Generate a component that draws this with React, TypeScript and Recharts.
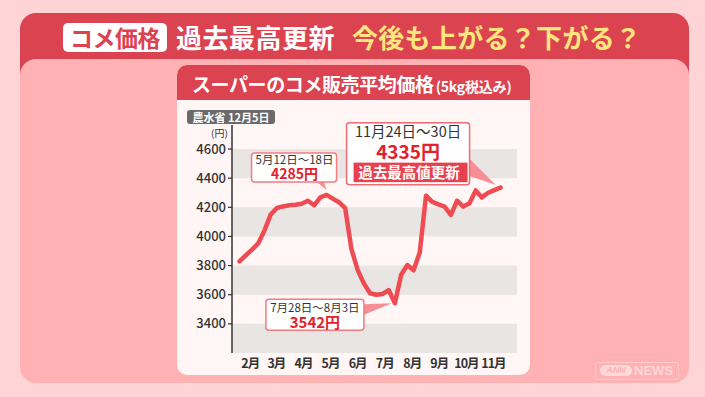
import React from 'react';
import { LineChart, Line, XAxis, YAxis, ReferenceArea, ReferenceDot } from 'recharts';

// ---- data ----
const weekStarts = ['2/3','2/10','2/17','2/24','3/3','3/10','3/17','3/24','3/31','4/7','4/14','4/21','4/28','5/5','5/12','5/19','5/26','6/2','6/9','6/16','6/23','6/30','7/7','7/14','7/21','7/28','8/4','8/11','8/18','8/25','9/1','9/8','9/15','9/22','9/29','10/6','10/13','10/20','10/27','11/3','11/10','11/17','11/24'];
const prices = [3829,3870,3910,3952,4040,4150,4195,4206,4214,4217,4225,4245,4214,4268,4285,4260,4235,4195,3915,3770,3678,3610,3600,3605,3632,3542,3737,3804,3768,3891,4280,4237,4220,4205,4147,4245,4205,4228,4316,4268,4300,4318,4335];
const monthNums = [2,3,4,5,6,7,8,9,10,11];
const monthLabels = ['2月','3月','4月','5月','6月','7月','8月','9月','10月','11月'];
const yTicks = [3400,3600,3800,4000,4200,4400,4600];
const greyBands = [[3200,3400],[3600,3800],[4000,4200],[4400,4600]];

const peakWeek = '5/12';
const peakRange = '5月12日～18日';
const lowWeek = '7/28';
const lowRange = '7月28日～8月3日';
const latestWeek = '11/24';
const latestRange = '11月24日～30日';
const recordText = '過去最高値更新';

const mainTag = 'コメ価格';
const mainTitle = '過去最高更新';
const mainSub = '今後も上がる？下がる？';
const cardTitle = 'スーパーのコメ販売平均価格';
const cardSub = '(5kg税込み)';
const sourceText = '農水省 12月5日';
const unitText = '(円)';

// ---- helpers ----
const cum = [0,31,59,90,120,151,181,212,243,273,304,334];
const dayOf = (m: number, d: number) => cum[m - 1] + d;
const parseWeek = (s: string) => { const [m, d] = s.split('/').map(Number); return dayOf(m, d); };
const chartData = weekStarts.map((w, i) => ({ day: parseWeek(w), price: prices[i] }));
const monthStarts = [...monthNums, 12].map(m => dayOf(m, 1));
const monthMids = monthNums.map((m, i) => (monthStarts[i] + monthStarts[i + 1]) / 2);
const priceAt = (w: string) => prices[weekStarts.indexOf(w)];

const FONT = '"Noto Sans CJK JP", "Noto Sans", sans-serif';
const RED = '#dc4351';
const LINE = '#ef4b53';
const TXTRED = '#e3202c';

const yen = (v: number) => `${v}円`;

const PeakCallout = (p: any) => {
  const { cx, cy } = p;
  const tx = cx - 32;
  return (
    <g fontFamily={FONT}>
      <polygon points={`${cx - 11},${cy - 14} ${cx - 3},${cy - 14} ${cx},${cy - 5}`} fill="#f68f95" />
      <rect x={cx - 75} y={cy - 42} width={85} height={29} rx={3} fill="#fff" stroke="#f27b82" strokeWidth={1.5} />
      <text x={tx} y={cy - 31} textAnchor="middle" fontSize={11.5} fill="#333">
        <tspan x={tx} y={cy - 31}>{peakRange}</tspan>
        <tspan x={tx} y={cy - 16} fontSize={14} fontWeight={700} fill={TXTRED}>{yen(priceAt(peakWeek))}</tspan>
      </text>
    </g>
  );
};

const LowCallout = (p: any) => {
  const { cx, cy } = p;
  const tx = cx - 80;
  return (
    <g fontFamily={FONT}>
      <polygon points={`${cx - 32},${cy + 1} ${cx - 32},${cy + 12} ${cx - 3},${cy}`} fill="#f68f95" />
      <rect x={cx - 129} y={cy - 4} width={98} height={31} rx={3} fill="#fff" stroke="#f27b82" strokeWidth={1.5} />
      <text x={tx} y={cy + 9} textAnchor="middle" fontSize={11.5} fill="#333">
        <tspan x={tx} y={cy + 9}>{lowRange}</tspan>
        <tspan x={tx} y={cy + 24.5} fontSize={15} fontWeight={700} fill={TXTRED}>{yen(priceAt(lowWeek))}</tspan>
      </text>
    </g>
  );
};

const LatestCallout = (p: any) => {
  const { cx, cy } = p;
  const tx = cx - 92.5;
  return (
    <g fontFamily={FONT}>
      <polygon points={`${cx - 32},${cy - 30} ${cx - 32},${cy - 12} ${cx - 5},${cy - 3}`} fill="#f68f95" />
      <rect x={cx - 154} y={cy - 65} width={123} height={62} rx={3} fill="#fff" stroke="#f06b73" strokeWidth={1.5} />
      <rect x={cx - 147} y={cy - 25} width={114} height={19.5} fill="#e8404c" />
      <text x={tx} y={cy - 51} textAnchor="middle" fontSize={14.5} fill="#333">
        <tspan x={tx} y={cy - 51}>{latestRange}</tspan>
        <tspan x={tx} y={cy - 28.5} fontSize={19} fontWeight={700} fill={TXTRED}>{yen(priceAt(latestWeek))}</tspan>
        <tspan x={tx + 1} y={cy - 10} fontSize={14.5} fontWeight={700} fill="#fff">{recordText}</tspan>
      </text>
    </g>
  );
};

const abs = (s: React.CSSProperties): React.CSSProperties => ({ position: 'absolute', ...s });

export default function App() {
  return (
    <div style={abs({ left: 0, top: 0, width: 705, height: 397, overflow: 'hidden', background: '#ffd4d6', fontFamily: FONT })}>
      {/* red banner & pink panel */}
      <div style={abs({ left: 20, top: 13, width: 669, height: 120, borderRadius: 16, background: RED })} />
      <div style={abs({ left: 20, top: 59, width: 669, height: 324, borderRadius: 16, background: '#ffb1b3' })} />
      {/* title row */}
      <div style={abs({ left: 63, top: 23, width: 104, height: 29, borderRadius: 5, background: '#fff', color: RED, fontSize: 23, fontWeight: 700, lineHeight: '29px', textAlign: 'center', letterSpacing: -0.5 })}>{mainTag}</div>
      <div style={abs({ left: 176, top: 23, fontSize: 26, fontWeight: 700, lineHeight: '28px', color: '#fff', whiteSpace: 'nowrap', letterSpacing: 0.5 })}>{mainTitle}</div>
      <div style={abs({ left: 352, top: 23, fontSize: 26, fontWeight: 700, lineHeight: '28px', color: '#ffe67d', whiteSpace: 'nowrap', letterSpacing: 0.3 })}>{mainSub}</div>
      {/* card */}
      <div style={abs({ left: 177, top: 65, width: 353, height: 310, borderRadius: 10, background: '#fff6f5', overflow: 'hidden' })}>
        <div style={abs({ left: 0, top: 0, width: 353, height: 35, background: RED })} />
      </div>
      <div style={abs({ left: 192, top: 74, fontSize: 19, fontWeight: 700, lineHeight: '20px', color: '#fff', whiteSpace: 'nowrap', letterSpacing: -0.4 })}>
        {cardTitle}<span style={{ fontSize: 14, marginLeft: 2, letterSpacing: -0.2 }}>{cardSub}</span>
      </div>
      <div style={abs({ left: 187, top: 110, width: 88, height: 14, borderRadius: 3, background: '#6a6a6a', color: '#fff', fontSize: 11, fontWeight: 700, lineHeight: '14px', textAlign: 'center', whiteSpace: 'nowrap' })}>{sourceText}</div>
      <div style={abs({ left: 211, top: 127, fontSize: 10, lineHeight: '12px', color: '#333' })}>{unitText}</div>
      {/* chart */}
      <div style={abs({ left: 177, top: 101 })}>
        <LineChart width={353} height={280} data={chartData} margin={{ top: 24, right: 13, bottom: 0, left: 0 }}>
          <XAxis xAxisId="b" type="number" dataKey="day" domain={[25.5, 346.5]} allowDataOverflow ticks={monthStarts} interval={0}
            height={0} tick={false} tickSize={4} axisLine={{ stroke: '#333', strokeWidth: 2 }} tickLine={{ stroke: '#333', strokeWidth: 1.2 }} />
          <XAxis xAxisId="m" type="number" dataKey="day" domain={[25.5, 346.5]} allowDataOverflow ticks={monthMids} interval={0}
            height={28} axisLine={false} tickLine={false} tickSize={0} tickMargin={6}
            tickFormatter={(v: number) => monthLabels[monthMids.indexOf(v)]}
            tick={{ fill: '#333', fontSize: 12.5, fontWeight: 700, fontFamily: FONT, letterSpacing: -1 }} />
          <YAxis type="number" domain={[3200, 4765]} allowDataOverflow ticks={yTicks} interval={0} width={55}
            axisLine={{ stroke: '#333', strokeWidth: 1.5 }} tickLine={{ stroke: '#333', strokeWidth: 1.2 }} tickSize={4} tickMargin={2}
            tick={{ fill: '#333', fontSize: 13, fontWeight: 500, fontFamily: FONT }} />
          {greyBands.map(([a, b]) => (
            <ReferenceArea key={a} xAxisId="b" y1={a} y2={b} fill="#e9e5e3" fillOpacity={1} stroke="none" ifOverflow="hidden" />
          ))}
          <Line xAxisId="b" type="linear" dataKey="price" stroke={LINE} strokeWidth={4.5} dot={false} isAnimationActive={false}
            strokeLinecap="round" strokeLinejoin="round" />
          <ReferenceDot xAxisId="b" x={parseWeek(peakWeek)} y={priceAt(peakWeek)} r={0} shape={PeakCallout} />
          <ReferenceDot xAxisId="b" x={parseWeek(lowWeek)} y={priceAt(lowWeek)} r={0} shape={LowCallout} />
          <ReferenceDot xAxisId="b" x={parseWeek(latestWeek)} y={priceAt(latestWeek)} r={0} shape={LatestCallout} />
        </LineChart>
      </div>
      {/* ANN NEWS mark */}
      <div style={abs({ left: 595, top: 362, width: 82, height: 16, borderRadius: 3, border: '1px solid rgba(255,255,255,0.35)' })} />
      <div style={abs({ left: 600, top: 365, width: 32, height: 11, borderRadius: 6, background: 'rgba(255,255,255,0.5)', color: '#ffb1b3', fontSize: 9, fontWeight: 700, fontStyle: 'italic', lineHeight: '11px', textAlign: 'center', fontFamily: '"Liberation Sans", sans-serif' })}>ANN</div>
      <div style={abs({ left: 634, top: 363, fontSize: 13, fontWeight: 700, lineHeight: '15px', color: 'rgba(255,255,255,0.5)', fontFamily: '"Liberation Sans", sans-serif' })}>NEWS</div>
    </div>
  );
}
